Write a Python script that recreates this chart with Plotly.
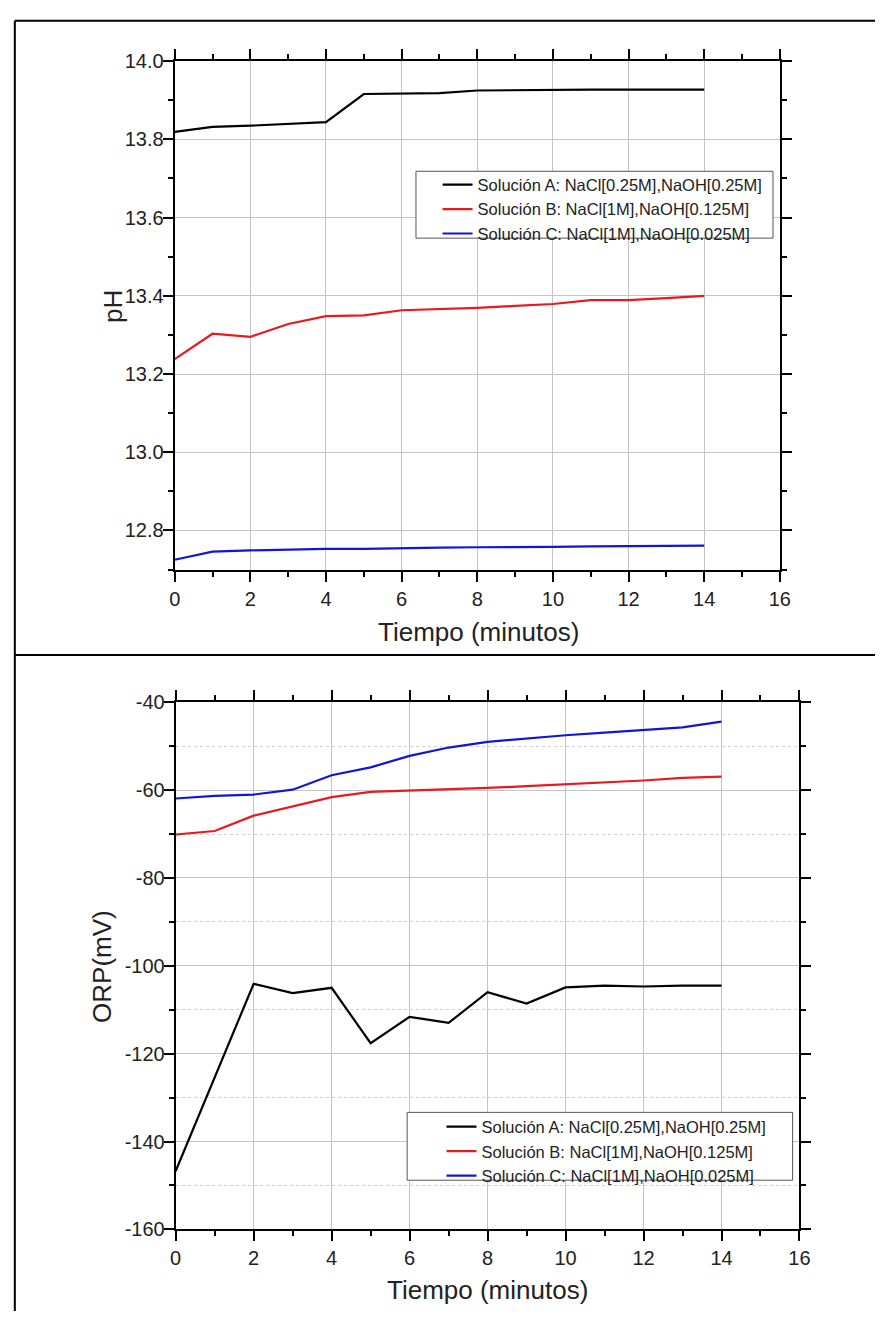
import plotly.graph_objects as go

W, H = 886, 1322

tiempo = list(range(0, 15))

ph_a = [13.819, 13.832, 13.835, 13.840, 13.844, 13.916, 13.917, 13.918, 13.925, 13.926,
        13.927, 13.927, 13.927, 13.927, 13.927]
ph_b = [13.238, 13.303, 13.295, 13.328, 13.348, 13.350, 13.363, 13.366, 13.369, 13.374,
        13.379, 13.389, 13.389, 13.394, 13.400]
ph_c = [12.725, 12.746, 12.749, 12.751, 12.753, 12.753, 12.755, 12.756, 12.757, 12.757,
        12.758, 12.759, 12.760, 12.760, 12.761]

orp_a = [-146.7, -125.4, -104.1, -106.2, -105.0, -117.6, -111.6, -113.0, -106.0, -108.6,
         -104.9, -104.5, -104.7, -104.5, -104.5]
orp_b = [-70.1, -69.3, -65.8, -63.7, -61.6, -60.4, -60.1, -59.9, -59.5, -59.1,
         -58.7, -58.3, -57.8, -57.2, -56.9]
orp_c = [-61.9, -61.3, -61.0, -59.9, -56.6, -54.8, -52.2, -50.3, -49.0, -48.2,
         -47.5, -46.9, -46.3, -45.7, -44.4]

ph_ticks = [12.8, 13.0, 13.2, 13.4, 13.6, 13.8, 14.0]
ph_ticktext = ["12.8", "13.0", "13.2", "13.4", "13.6", "13.8", "14.0"]
orp_ticks = [-160, -140, -120, -100, -80, -60, -40]
orp_ticktext = ["-160", "-140", "-120", "-100", "-80", "-60", "-40"]

nombres = ["Solución A: NaCl[0.25M],NaOH[0.25M]",
           "Solución B: NaCl[1M],NaOH[0.125M]",
           "Solución C: NaCl[1M],NaOH[0.025M]"]
colores = ["#000000", "#e8191f", "#1414d6"]

FONT = "Liberation Sans, Arial, sans-serif"
TXT = "#222222"

fig = go.Figure()
for ys, n, c in zip([ph_a, ph_b, ph_c], nombres, colores):
    fig.add_trace(go.Scatter(x=tiempo, y=ys, name=n, mode="lines",
                             line=dict(color=c, width=2.2), xaxis="x", yaxis="y",
                             legend="legend"))
for ys, n, c in zip([orp_a, orp_b, orp_c], nombres, colores):
    fig.add_trace(go.Scatter(x=tiempo, y=ys, name=n, mode="lines",
                             line=dict(color=c, width=2.2), xaxis="x2", yaxis="y2",
                             legend="legend2"))

def px_x(p):
    return p / W

def px_y(p):
    return 1 - p / H

axis_common = dict(showline=True, linecolor="black", linewidth=2, mirror="allticks",
                   ticks="outside", ticklen=10, tickwidth=2, tickcolor="black",
                   showgrid=True, gridcolor="#c4c4c4", gridwidth=1, zeroline=False,
                   tickfont=dict(family=FONT, size=20, color=TXT), fixedrange=True)

fig.update_layout(
    width=W, height=H,
    margin=dict(l=0, r=0, t=0, b=0),
    paper_bgcolor="white", plot_bgcolor="white",
    font=dict(family=FONT, color=TXT),
    xaxis=dict(domain=[px_x(172), px_x(789)], range=[0, 16], dtick=2, anchor="y",
               minor=dict(dtick=1, ticklen=5, tickwidth=2, ticks="outside", showgrid=False),
               **axis_common),
    yaxis=dict(domain=[px_y(568), px_y(51)], range=[12.7, 14.0],
               tickvals=ph_ticks, ticktext=ph_ticktext, anchor="x",
               ticklabelstandoff=-5,
               minor=dict(dtick=0.1, tick0=12.7, ticklen=5, tickwidth=2, ticks="outside",
                          showgrid=False),
               **axis_common),
    xaxis2=dict(domain=[px_x(173), px_x(809)], range=[0, 16], dtick=2, anchor="y2",
                minor=dict(dtick=1, ticklen=5, tickwidth=2, ticks="outside", showgrid=False),
                **axis_common),
    yaxis2=dict(domain=[px_y(1239), px_y(703)], range=[-160, -40],
                tickvals=orp_ticks, ticktext=orp_ticktext, anchor="x2",
                ticklabelstandoff=-5,
                minor=dict(dtick=10, tick0=-160, ticklen=5, tickwidth=2, ticks="outside",
                           showgrid=True, griddash="dot", gridcolor="#cfcfcf", gridwidth=1),
                **axis_common),
    legend=dict(x=px_x(440), y=px_y(159), xanchor="left", yanchor="top",
                bgcolor="rgba(0,0,0,0)", borderwidth=0,
                font=dict(family=FONT, size=16.5, color=TXT), tracegroupgap=0),
    legend2=dict(x=px_x(444), y=px_y(1117), xanchor="left", yanchor="top",
                 bgcolor="rgba(0,0,0,0)", borderwidth=0,
                 font=dict(family=FONT, size=16.5, color=TXT), tracegroupgap=0),
    showlegend=True,
)

# legend frames (white boxes)
box = dict(type="rect", xref="paper", yref="paper", layer="above",
           fillcolor="white", line=dict(color="#555555", width=1))
fig.add_shape(x0=px_x(418), x1=px_x(782), y0=px_y(231), y1=px_y(163), **box)
fig.add_shape(x0=px_x(409), x1=px_x(802), y0=px_y(1189), y1=px_y(1120), **box)

annots = [
    dict(text="Tiempo (minutos)", x=px_x(482), y=px_y(632), textangle=0),
    dict(text="Tiempo (minutos)", x=px_x(491), y=px_y(1301), textangle=0),
    dict(text="pH", x=px_x(109), y=px_y(300), textangle=-90),
    dict(text="ORP(mV)", x=px_x(98), y=px_y(972), textangle=-90),
]
for a in annots:
    fig.add_annotation(text=a["text"], x=a["x"], y=a["y"], xref="paper", yref="paper",
                       xanchor="center", yanchor="middle", showarrow=False,
                       textangle=a["textangle"],
                       font=dict(family=FONT, size=26, color=TXT))

# table frame lines
frame = dict(type="line", xref="paper", yref="paper", line=dict(color="black", width=2))
fig.add_shape(x0=px_x(9), x1=px_x(9), y0=px_y(10), y1=0, **frame)
fig.add_shape(x0=px_x(9), x1=1, y0=px_y(10), y1=px_y(10), **frame)
fig.add_shape(x0=px_x(9), x1=1, y0=px_y(655), y1=px_y(655), **frame)

fig.write_html("out.html")
